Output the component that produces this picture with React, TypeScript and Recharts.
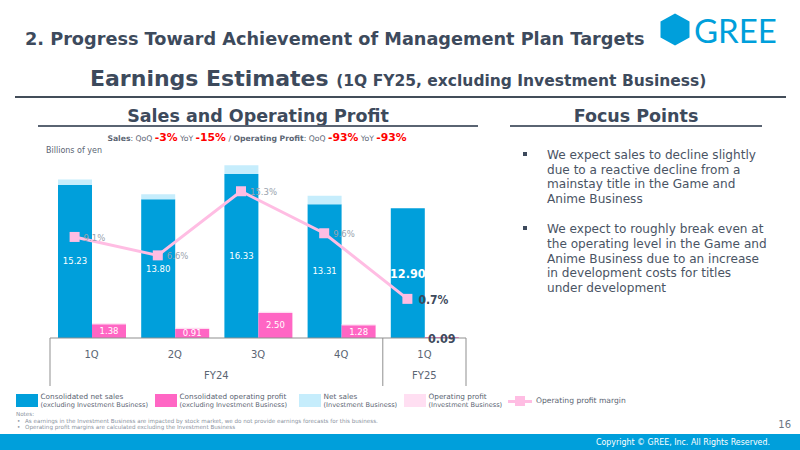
import React from 'react';
import { ComposedChart, Bar, Line, XAxis, YAxis, LabelList } from 'recharts';

// values (billions of yen / %)
const quarters = ['1Q', '2Q', '3Q', '4Q', '1Q'];
const fiscalYears = ['FY24', 'FY24', 'FY24', 'FY24', 'FY25'];
const netSales = [15.23, 13.8, 16.33, 13.31, 12.9];
const investmentSales = [0.55, 0.5, 0.85, 0.85, 0];
const operatingProfit = [1.38, 0.91, 2.5, 1.28, 0.09];
const investmentProfit = [0.1, 0.1, 0.1, 0.1, 0];
const operatingMargin = [9.1, 6.6, 15.3, 9.6, 0.7];

const focusPoints = [
  ['We expect sales to decline slightly', 'due to a reactive decline from a', 'mainstay title in the Game and', 'Anime Business'],
  ['We expect to roughly break even at', 'the operating level in the Game and', 'Anime Business due to an increase', 'in development costs for titles', 'under development'],
];

const notes = [
  'As earnings in the Investment Business are impacted by stock market, we do not provide earnings forecasts for this business.',
  'Operating profit margins are calculated excluding the Investment Business',
];

const BLUE = '#009fdb';
const PINK = '#ff66c4';
const LIGHT_BLUE = '#c6edfc';
const LIGHT_PINK = '#ffdff2';
const LINE_PINK = '#ffbde3';
const DARK = '#3d4a5c';
const GREY = '#5b6573';
const SANS = "'DejaVu Sans', Verdana, sans-serif";
const COND = "'DejaVu Sans Condensed', 'DejaVu Sans', sans-serif";

const data = quarters.map((q, i) => ({
  id: `${fiscalYears[i]}-${q}`,
  idx: i,
  netSales: netSales[i],
  investmentSales: investmentSales[i],
  operatingProfit: operatingProfit[i],
  investmentProfit: investmentProfit[i],
  margin: operatingMargin[i],
}));

const W = 480;
const H = 300;
const M = { top: 7, right: 14, left: 50, bottom: 42 };
const AXIS_H = 50;
const BAR = 34;
const band = (W - M.left - M.right) / quarters.length;
// margin line sits on the centre of the net sales bar, half a bar left of the category centre
const shift = BAR / 2 / band;
const last = quarters.length - 1;

const Txt = ({ x, cy, size, weight = 400, color = DARK, family = SANS, anchor = 'left', children }: any) => {
  const lh = size * 1.2;
  const style: React.CSSProperties = {
    position: 'absolute', top: cy - lh / 2, fontSize: size, lineHeight: `${lh}px`, fontWeight: weight,
    color, fontFamily: family, whiteSpace: 'nowrap',
  };
  if (anchor === 'left') style.left = x;
  else if (anchor === 'right') style.right = 800 - x;
  else { style.left = x - 300; style.width = 600; style.textAlign = 'center'; }
  return <div style={style}>{children}</div>;
};

const QuarterTick = (props: any) => {
  const { x, y, payload } = props;
  const i = props.index ?? payload.index;
  const half = band / 2;
  const lines: number[] = [];
  if (i === 0) lines.push(x - half);
  if (i === last - 1 || i === last) lines.push(x + half);
  return (
    <g>
      <text x={x} y={y + 19.5} textAnchor="middle" fontSize={10} fill={GREY} fontFamily={SANS}>{quarters[i]}</text>
      {i === 0 && (
        <text x={x + 1.5 * band} y={y + 40.5} textAnchor="middle" fontSize={10} fill={GREY} fontFamily={SANS}>{fiscalYears[0]}</text>
      )}
      {i === last && (
        <text x={x} y={y + 40.5} textAnchor="middle" fontSize={10} fill={GREY} fontFamily={SANS}>{fiscalYears[last]}</text>
      )}
      {lines.map((lx) => <line key={lx} x1={lx} x2={lx} y1={y} y2={y + 48} stroke="#8f8f8f" strokeWidth={1} />)}
    </g>
  );
};

const salesLabel = (p: any) => {
  const { x, y, width, height, value, index } = p;
  const big = index === last;
  return (
    <text x={x + width / 2} y={y + height / 2} textAnchor="middle" dominantBaseline="central" fill="#fff"
      fontSize={big ? 12.5 : 8.5} fontWeight={big ? 700 : 400} fontFamily={big ? COND : SANS}>
      {Number(value).toFixed(2)}
    </text>
  );
};

const profitLabel = (p: any) => {
  const { x, y, width, height, value, index } = p;
  const big = index === last;
  return (
    <text x={x + width / 2} y={y + height / 2 + (big ? 1 : 0)} textAnchor="middle" dominantBaseline="central"
      fill={big ? DARK : '#fff'} fontSize={big ? 12.5 : 8.5} fontWeight={big ? 700 : 400} fontFamily={big ? COND : SANS}>
      {Number(value).toFixed(2)}
    </text>
  );
};

const marginLabel = (p: any) => {
  const { x, y, value, index } = p;
  const big = index === last;
  return (
    <text x={x + (big ? 11 : 9)} y={y + 1} dominantBaseline="central" fill={big ? DARK : '#9aa3ae'}
      fontSize={big ? 12 : 8.5} fontWeight={big ? 700 : 400} fontFamily={big ? COND : SANS}>
      {Number(value).toFixed(1)}%
    </text>
  );
};

const SquareDot = (p: any) => (
  <rect key={`dot-${p.index}`} x={p.cx - 5} y={p.cy - 5} width={10} height={10} fill={LINE_PINK} />
);

const legendItems = [
  { color: BLUE, x: 16, title: 'Consolidated net sales', sub: '(excluding Investment Business)' },
  { color: PINK, x: 155, title: 'Consolidated operating profit', sub: '(excluding Investment Business)' },
  { color: LIGHT_BLUE, x: 299, title: 'Net sales', sub: '(Investment Business)' },
  { color: LIGHT_PINK, x: 404, title: 'Operating profit', sub: '(Investment Business)' },
];

const SalesChart = () => (
  <ComposedChart width={W} height={H} data={data} margin={M} barGap={0} barSize={BAR}>
    <XAxis xAxisId="cat" dataKey="id" height={AXIS_H} tickLine={false} tickSize={0} tickMargin={0}
      axisLine={{ stroke: '#8f8f8f' }} tick={<QuarterTick />} interval={0} />
    <XAxis xAxisId="pos" dataKey="idx" type="number" hide allowDataOverflow
      domain={[-0.5 + shift, quarters.length - 0.5 + shift]} />
    <YAxis yAxisId="left" hide domain={[0, 20]} />
    <YAxis yAxisId="right" hide domain={[-4.61, 22.66]} allowDataOverflow />
    <Bar xAxisId="cat" yAxisId="left" dataKey="netSales" stackId="sales" fill={BLUE} isAnimationActive={false}>
      <LabelList dataKey="netSales" content={salesLabel} />
    </Bar>
    <Bar xAxisId="cat" yAxisId="left" dataKey="investmentSales" stackId="sales" fill={LIGHT_BLUE} isAnimationActive={false} />
    <Bar xAxisId="cat" yAxisId="left" dataKey="operatingProfit" stackId="profit" fill={PINK} isAnimationActive={false}>
      <LabelList dataKey="operatingProfit" content={profitLabel} />
    </Bar>
    <Bar xAxisId="cat" yAxisId="left" dataKey="investmentProfit" stackId="profit" fill={LIGHT_PINK} isAnimationActive={false} />
    <Line xAxisId="pos" yAxisId="right" dataKey="margin" stroke={LINE_PINK} strokeWidth={3} dot={SquareDot}
      activeDot={false} isAnimationActive={false}>
      <LabelList dataKey="margin" content={marginLabel} />
    </Line>
  </ComposedChart>
);

export default function App() {
  return (
    <div style={{ position: 'absolute', left: 0, top: 0, width: 800, height: 450, background: '#fff', overflow: 'hidden', fontFamily: SANS }}>
      <Txt x={25} cy={40} size={17.7} weight={700}>2. Progress Toward Achievement of Management Plan Targets</Txt>
      <svg style={{ position: 'absolute', left: 659, top: 10 }} width={130} height={42}>
        <polygon points="16,3.5 30.5,11.5 30.5,27.5 16,35.5 1.5,27.5 1.5,11.5" fill={BLUE} />
        <text x={35} y={32.5} fontFamily="Lato, 'Open Sans', sans-serif" fontSize={33} fill={BLUE}>GREE</text>
      </svg>

      <div style={{ position: 'absolute', left: 90, top: 66, whiteSpace: 'nowrap', fontFamily: SANS, fontWeight: 700, color: DARK }}>
        <span style={{ fontSize: 22 }}>Earnings Estimates </span>
        <span style={{ fontSize: 15.5 }}>(1Q FY25, excluding Investment Business)</span>
      </div>
      <div style={{ position: 'absolute', left: 15, top: 95.5, width: 771, height: 2, background: '#434d59' }} />

      <Txt x={258} cy={116.5} size={17.5} weight={700} anchor="center">Sales and Operating Profit</Txt>
      <div style={{ position: 'absolute', left: 38, top: 125, width: 440, height: 1.5, background: '#5a6472' }} />
      <Txt x={636} cy={116.5} size={17.5} weight={700} anchor="center">Focus Points</Txt>
      <div style={{ position: 'absolute', left: 510, top: 125, width: 252, height: 1.5, background: '#5a6472' }} />

      <Txt x={257} cy={137.5} size={7.7} color={GREY} anchor="center">
        <b>Sales</b>: QoQ <b style={{ color: '#ff0000', fontSize: 10.8 }}>-3%</b> YoY <b style={{ color: '#ff0000', fontSize: 10.8 }}>-15%</b> / <b>Operating Profit</b>: QoQ <b style={{ color: '#ff0000', fontSize: 10.8 }}>-93%</b> YoY <b style={{ color: '#ff0000', fontSize: 10.8 }}>-93%</b>
      </Txt>
      <Txt x={46} cy={150.5} size={8} color={GREY}>Billions of yen</Txt>

      <div style={{ position: 'absolute', left: 0, top: 130, width: W, height: H }}>
        <SalesChart />
      </div>

      {focusPoints.map((lines, b) => (
        <div key={b}>
          <div style={{ position: 'absolute', left: 523, top: (b === 0 ? 154 : 228.3) - 2, width: 4, height: 4, background: DARK }} />
          {lines.map((l, j) => (
            <Txt key={j} x={547} cy={(b === 0 ? 155 : 229.3) + j * 14.8} size={12.1} color="#4a5464">{l}</Txt>
          ))}
        </div>
      ))}

      {legendItems.map((it) => (
        <div key={it.title}>
          <div style={{ position: 'absolute', left: it.x, top: 394, width: 22, height: 12.5, background: it.color }} />
          <Txt x={it.x + 24.5} cy={397} size={7.3} color={GREY}>{it.title}</Txt>
          <Txt x={it.x + 24.5} cy={405.5} size={6.6} color={GREY}>{it.sub}</Txt>
        </div>
      ))}
      <div style={{ position: 'absolute', left: 508, top: 399.5, width: 24, height: 3, background: LINE_PINK }} />
      <div style={{ position: 'absolute', left: 515, top: 396, width: 10, height: 10, background: LINE_PINK }} />
      <Txt x={536} cy={401} size={7.6} color={GREY}>Operating profit margin</Txt>

      <Txt x={16} cy={414} size={5.6} color="#8a93a0">Notes:</Txt>
      {notes.map((n, k) => (
        <div key={k}>
          <Txt x={17} cy={421 + k * 6.7} size={5.6} color="#8a93a0">•</Txt>
          <Txt x={25} cy={421 + k * 6.7} size={5.6} color="#8a93a0">{n}</Txt>
        </div>
      ))}
      <Txt x={791} cy={424.5} size={10} color="#6b7480" anchor="right">16</Txt>

      <div style={{ position: 'absolute', left: 0, top: 434, width: 800, height: 16, background: BLUE }} />
      <Txt x={770} cy={442} size={8.8} color="#fff" family={COND} anchor="right">Copyright © GREE, Inc. All Rights Reserved.</Txt>
    </div>
  );
}
